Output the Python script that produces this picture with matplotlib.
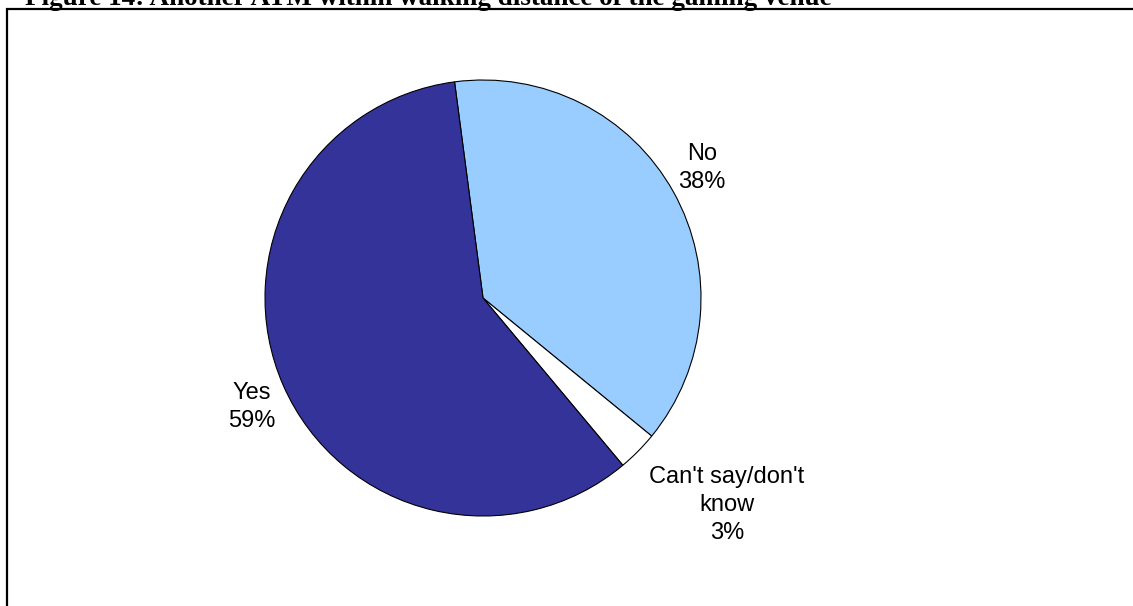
import numpy as np
import matplotlib.pyplot as plt
from matplotlib.patches import Rectangle

TITLE = "Figure 14: Another ATM within walking distance of the gaming venue"
labels = ["No", "Can't say/don't\nknow", "Yes"]
values = [38, 3, 59]
colors = ["#99CCFF", "#FFFFFF", "#333399"]
# label placement: distance (in radii) and angle nudge (deg) from wedge middle
label_dist = [1.168, 1.468, 1.172]
label_nudge = [1.6, 4.4, 1.6]

W, H = 1133, 606
fig = plt.figure(figsize=(W / 100, H / 100), dpi=100)
ax = fig.add_axes([0, 0, 1, 1])

center = (483, H - 298)
radius = 218
start = 97.5

wedges, _ = ax.pie(values, colors=colors, startangle=start, counterclock=False,
                   center=center, radius=radius,
                   wedgeprops=dict(edgecolor="black", linewidth=0.8))

frac = np.array(values) / sum(values)
ends = start - np.cumsum(frac) * 360
mids = ends + frac * 180
for lab, v, m, d, n in zip(labels, values, mids, label_dist, label_nudge):
    a = np.deg2rad(m + n)
    x = center[0] + radius * d * np.cos(a)
    y = center[1] + radius * d * np.sin(a)
    ax.text(x, y, f"{lab}\n{v}%", ha="center", va="center", fontsize=17,
            family="Liberation Sans", linespacing=1.33)

# chart border
ax.add_patch(Rectangle((7, -20), W + 20, H - 9 + 20, fill=False,
                       edgecolor="black", linewidth=1.6))

# title (clipped at top like the source)
ax.text(25, H - 5, TITLE, ha="left", va="baseline", fontsize=19.5,
        family="Liberation Serif", weight="bold")

ax.set_xlim(0, W)
ax.set_ylim(0, H)
ax.set_aspect("equal")
ax.axis("off")

fig.savefig("out.png", dpi=100)
